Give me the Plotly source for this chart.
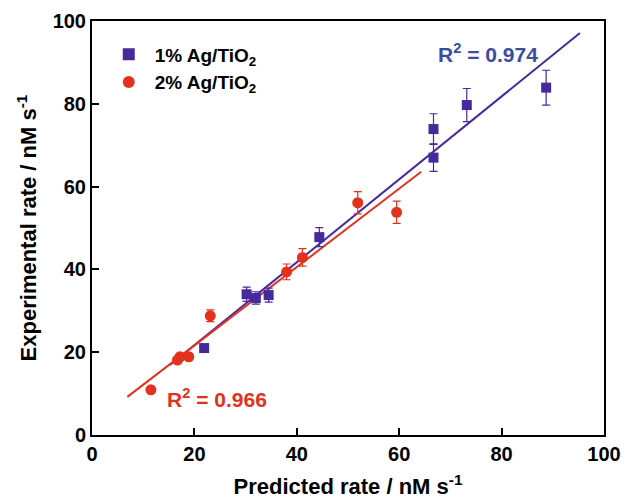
import plotly.graph_objects as go

# 1% Ag/TiO2 data
x1 = [21.9, 30.2, 32.0, 34.5, 44.4, 66.7, 66.7, 73.2, 88.7]
y1 = [21.0, 34.0, 33.1, 33.8, 47.8, 73.9, 67.0, 79.7, 83.9]
e1 = [0.0, 1.7, 1.5, 1.7, 2.3, 3.7, 3.3, 4.0, 4.2]

# 2% Ag/TiO2 data
x2 = [11.5, 16.7, 17.2, 18.9, 23.1, 38.0, 41.1, 51.9, 59.5]
y2 = [10.9, 18.1, 18.9, 18.9, 28.8, 39.4, 42.9, 56.1, 53.8]
e2 = [0.0, 0.0, 0.0, 0.0, 1.4, 1.9, 2.1, 2.7, 2.7]

# linear fit lines (endpoints)
fit1_x = [15.2, 95.3]
fit1_y = [16.9, 97.1]
fit2_x = [6.9, 64.3]
fit2_y = [9.2, 63.6]

purple = '#46299A'
red = '#E2321E'
blue_txt = '#3A4DA0'

fig = go.Figure()
fig.add_trace(go.Scatter(x=fit1_x, y=fit1_y, mode='lines', line=dict(color=purple, width=2), showlegend=False))
fig.add_trace(go.Scatter(x=fit2_x, y=fit2_y, mode='lines', line=dict(color=red, width=2), showlegend=False))
fig.add_trace(go.Scatter(
    x=x1, y=y1, mode='markers', name='<b>1% Ag/TiO<sub>2</sub></b>',
    marker=dict(symbol='square', size=10, color=purple),
    error_y=dict(type='data', array=e1, visible=True, color=purple, thickness=1.2, width=4)))
fig.add_trace(go.Scatter(
    x=x2, y=y2, mode='markers', name='<b>2% Ag/TiO<sub>2</sub></b>',
    marker=dict(symbol='circle', size=11, color=red),
    error_y=dict(type='data', array=e2, visible=True, color=red, thickness=1.2, width=4)))

font_main = 'Liberation Sans, Arial, sans-serif'

fig.add_annotation(x=77.3, y=92.3, xref='x', yref='y', text='<b>R<sup>2</sup> = 0.974</b>',
                   showarrow=False, font=dict(size=21, color=blue_txt, family=font_main))
fig.add_annotation(x=24.4, y=9.0, xref='x', yref='y', text='<b>R<sup>2</sup> = 0.966</b>',
                   showarrow=False, font=dict(size=21, color=red, family=font_main))

axis_common = dict(
    showline=True, linecolor='black', linewidth=2, mirror=True,
    ticks='inside', ticklen=7, tickwidth=1.5, tickcolor='black',
    showgrid=False, zeroline=False, automargin=False,
    tickfont=dict(size=20, color='black', family=font_main),
)

fig.update_layout(
    width=626, height=499,
    margin=dict(l=92, r=22, t=21, b=64),
    plot_bgcolor='white', paper_bgcolor='white',
    font=dict(family=font_main, color='black'),
    legend=dict(x=0.021, y=0.965, xanchor='left', yanchor='top',
                font=dict(size=19, color='black', family=font_main),
                bgcolor='rgba(0,0,0,0)', itemsizing='constant', tracegroupgap=0,
                itemwidth=42),
    xaxis=dict(range=[0, 100], tick0=0, dtick=20,
               title=dict(text='<b>Predicted rate / nM s<sup>-1</sup></b>', font=dict(size=22), standoff=17),
               **axis_common),
    yaxis=dict(range=[0, 100], tick0=0, dtick=20,
               title=dict(text='<b>Experimental rate / nM s<sup>-1</sup></b>', font=dict(size=22), standoff=10),
               **axis_common),
)
fig.update_xaxes(tickprefix='<b>', ticksuffix='</b>')
fig.update_yaxes(tickprefix='<b>', ticksuffix='</b>')

fig.write_html('out.html')
